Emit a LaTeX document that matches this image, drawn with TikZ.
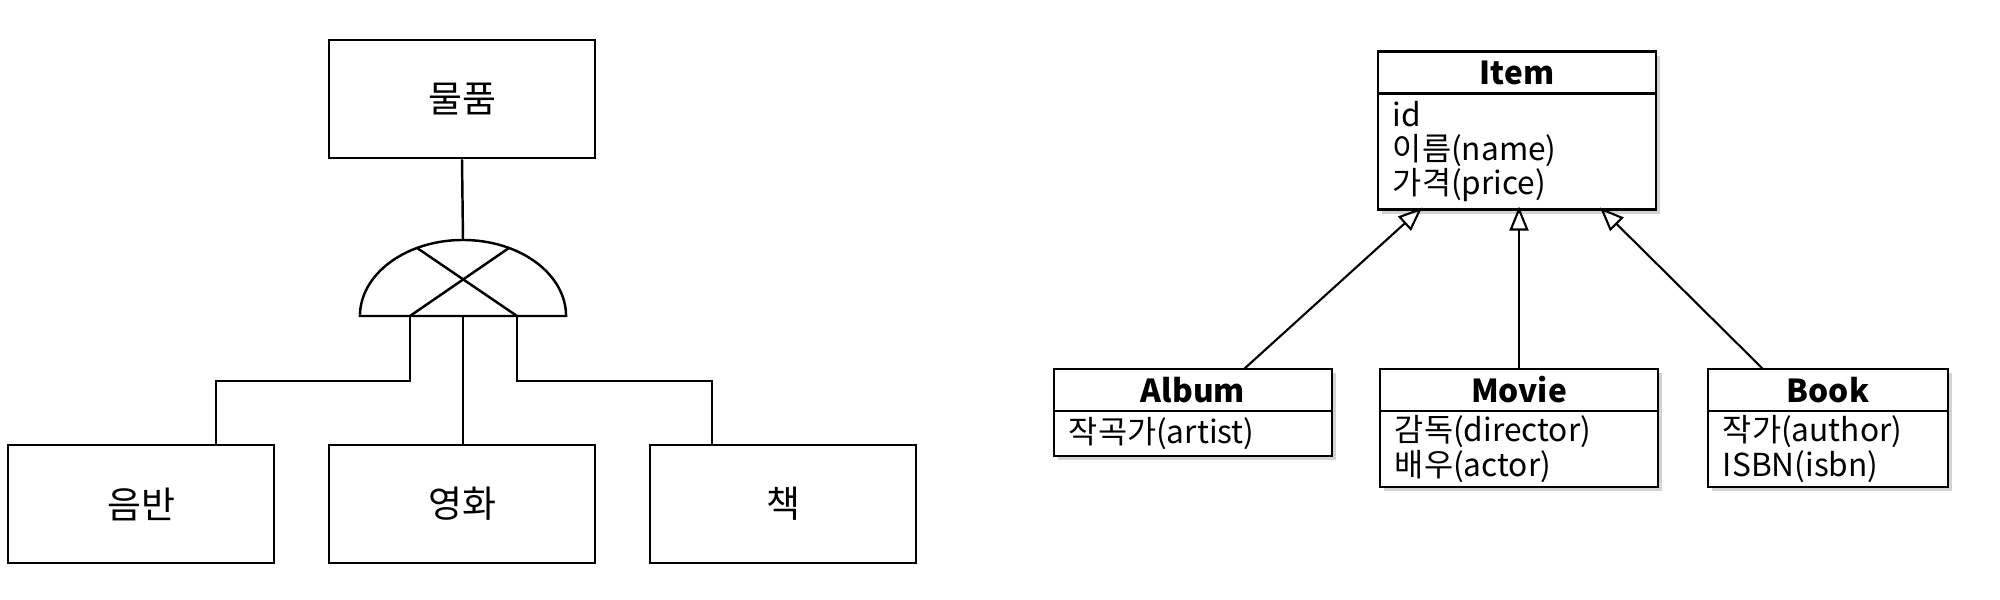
\documentclass[tikz,border=0pt]{standalone}
\usepackage{fontspec}
\newfontfamily\krfont{Noto Sans CJK KR}
\usetikzlibrary{positioning,arrows.meta,shadows}

\tikzset{
  entbox/.style={draw, line width=0.7pt, minimum width=2.66cm, minimum height=1.18cm,
    font=\krfont\fontsize{10.5}{12}\selectfont},
  classhead/.style={draw, line width=0.7pt, fill=white, outer sep=0pt, inner sep=0pt,
    minimum height=0.42cm, font=\krfont\bfseries\fontsize{9}{10}\selectfont,
    drop shadow={shadow xshift=0.04cm, shadow yshift=-0.04cm, opacity=0.35}},
  classbody/.style={draw, line width=0.7pt, fill=white, outer sep=0pt, align=left,
    inner xsep=0.15cm, inner ysep=0pt, font=\krfont\fontsize{9}{9.8}\selectfont,
    drop shadow={shadow xshift=0.04cm, shadow yshift=-0.04cm, opacity=0.35}},
  inherit/.style={line width=0.6pt, -{Triangle[open, length=0.24cm, width=0.19cm]}, shorten >=-0.03cm}
}

\begin{document}
\begin{tikzpicture}[x=0.01cm, y=-0.01cm, line width=0.7pt]
    \useasboundingbox (0,0) rectangle (2000,599);

    % Entity boxes
    \node[entbox] (goods) at (462,99) {물품};
    \node[entbox] (record) at (141,504) {음반};
    \node[entbox] (film) at (462,504) {영화};
    \node[entbox] (book) at (783,504) {책};

    % Subtype symbol
    \coordinate (gate) at (463,316);
    \draw ([xshift=-1.03cm]gate) arc[start angle=180, end angle=0, x radius=1.03cm, y radius=0.76cm] -- cycle;
    \draw ([shift={(116.5:1.03cm and 0.76cm)}]gate) -- ([xshift=0.54cm]gate);
    \draw ([shift={(63.5:1.03cm and 0.76cm)}]gate) -- ([xshift=-0.53cm]gate);

    % Lines to the subtypes
    \draw (goods.south) -- ([yshift=0.76cm]gate);
    \draw ([xshift=-0.53cm]gate) -- ++(0,65) -| ([xshift=0.75cm]record.north);
    \draw (gate) -- (gate |- film.north);
    \draw ([xshift=0.54cm]gate) -- ++(0,65) -| ([xshift=-0.71cm]book.north);

    % Class diagram
    \node[classhead, minimum width=2.78cm] (item) at (1517,72.5) {Item};
    \node[classbody, text width=2.48cm, minimum height=1.16cm, below=0pt of item] (itemattr) {id\\이름(name)\\가격(price)};

    \node[classhead, minimum width=2.78cm] (album) at (1193,390) {Album};
    \node[classbody, text width=2.48cm, minimum height=0.45cm, below=0pt of album] (albumattr) {작곡가(artist)};

    \node[classhead, minimum width=2.78cm] (movie) at (1519,390) {Movie};
    \node[classbody, text width=2.48cm, minimum height=0.76cm, below=0pt of movie] (movieattr) {감독(director)\\배우(actor)};

    \node[classhead, minimum width=2.40cm] (bookcls) at (1828,390) {Book};
    \node[classbody, text width=2.10cm, minimum height=0.76cm, below=0pt of bookcls] (bookattr) {작가(author)\\ISBN(isbn)};

    % Generalization
    \draw[inherit] ([xshift=0.51cm]album.north) -- ([xshift=-0.97cm]itemattr.south);
    \draw[inherit] (movie.north) -- (movie.north |- itemattr.south);
    \draw[inherit] ([xshift=-0.65cm]bookcls.north) -- ([xshift=0.85cm]itemattr.south);
\end{tikzpicture}
\end{document}
